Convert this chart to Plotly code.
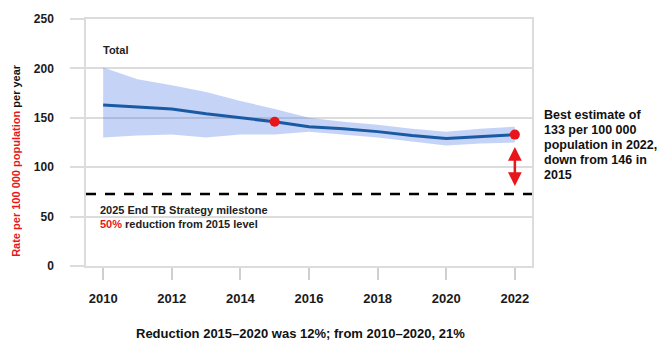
import plotly.graph_objects as go

# Estimated TB incidence rate, global total
years = [2010, 2011, 2012, 2013, 2014, 2015, 2016, 2017, 2018, 2019, 2020, 2021, 2022]
best = [163, 161, 159, 154, 150, 146, 141, 139, 136, 132, 129, 131, 133]
upper = [201, 189, 183, 176, 167, 159, 150, 146, 143, 139, 136, 139, 141]
lower = [130, 132, 133, 130, 133, 133, 136, 133, 130, 126, 122, 124, 125]

x_ticks = [2010, 2012, 2014, 2016, 2018, 2020, 2022]
y_ticks = [0, 50, 100, 150, 200, 250]

base_year = 2015
base_value = best[years.index(base_year)]
milestone = base_value * 0.5          # 50% reduction from 2015 level
last_year = years[-1]
last_value = best[-1]

side_lines = [
    "Best estimate of",
    f"{last_value} per 100 000",
    f"population in {last_year},",
    f"down from {base_value} in",
    f"{base_year}",
]

FONT = "Liberation Sans, Arial, sans-serif"
RED = "#e8151b"
GRID = "#dcdcdc"

W, H = 661, 342
L, R, T, B = 86, 129, 17, 76


def px_x(p):
    return (p - L) / (W - L - R)


def px_y(p):
    return (H - B - p) / (H - T - B)


fig = go.Figure()

# uncertainty band
fig.add_trace(go.Scatter(x=years, y=upper, mode="lines", line=dict(width=0),
                         hoverinfo="skip"))
fig.add_trace(go.Scatter(x=years, y=lower, mode="lines", line=dict(width=0),
                         fill="tonexty", fillcolor="rgba(80,120,230,0.33)",
                         hoverinfo="skip"))
# best estimate
fig.add_trace(go.Scatter(x=years, y=best, mode="lines",
                         line=dict(color="#1a5aa2", width=3)))
# highlighted points
fig.add_trace(go.Scatter(x=[base_year, last_year], y=[base_value, last_value],
                         mode="markers",
                         marker=dict(color=RED, size=10)))

# milestone line
fig.add_shape(type="line", xref="paper", x0=0, x1=1, yref="y",
              y0=milestone, y1=milestone,
              line=dict(color="black", width=2.5, dash="10px,9px"))

# double-headed arrow between latest estimate and milestone
fig.add_annotation(x=last_year, y=milestone + 8, ax=last_year, ay=last_value - 11,
                   xref="x", yref="y", axref="x", ayref="y", text="",
                   showarrow=True, arrowside="end+start", arrowhead=2,
                   arrowsize=1.1, arrowwidth=2.5, arrowcolor=RED)

fig.add_annotation(x=2009.94, y=219, xref="x", yref="y", text="Total",
                   showarrow=False, xanchor="left", yanchor="middle",
                   font=dict(family=FONT, size=11, color="#222", weight="bold"))

fig.add_annotation(x=2009.85, y=50, xref="x", yref="y",
                   text="2025 End TB Strategy milestone<br>"
                        f"<span style='color:{RED}'>50%</span> reduction from {base_year} level",
                   showarrow=False, xanchor="left", yanchor="middle", align="left",
                   font=dict(family=FONT, size=11, color="#222", weight="bold"))

for i, line in enumerate(side_lines):
    fig.add_annotation(x=px_x(542), y=px_y(113.5 + 15.2 * i), xref="paper", yref="paper",
                       text=line, showarrow=False, xanchor="left", yanchor="middle",
                       font=dict(family=FONT, size=12.5, color="#111", weight="bold"))

# axis title, two colours
fig.add_annotation(x=px_x(16), y=px_y(160), xref="paper", yref="paper",
                   text=f"<span style='color:{RED}'>Rate per 100 000 population</span> per year",
                   textangle=-90, showarrow=False, xanchor="center", yanchor="middle",
                   font=dict(family=FONT, size=11, color="#111", weight="bold"))

fig.add_annotation(x=px_x(300), y=px_y(334), xref="paper", yref="paper",
                   text="Reduction 2015–2020 was 12%; from 2010–2020, 21%",
                   showarrow=False, xanchor="center", yanchor="middle",
                   font=dict(family=FONT, size=13, color="#111", weight="bold"))

fig.update_xaxes(range=[2009.5, 2022.5], tickvals=x_ticks,
                 showgrid=False, zeroline=False,
                 ticks="outside", ticklen=12, tickwidth=1.5, tickcolor="#cfcfcf",
                 ticklabelstandoff=8,
                 showline=True, mirror=True, linecolor=GRID, linewidth=1.5,
                 tickfont=dict(family=FONT, size=13, color="#1a1a1a", weight="bold"))
fig.update_yaxes(range=[0, 250], tickvals=y_ticks,
                 showgrid=True, gridcolor=GRID, gridwidth=1.5, zeroline=False,
                 ticks="outside", ticklen=14, tickwidth=1.5, tickcolor=GRID,
                 ticklabelstandoff=14,
                 showline=True, mirror=True, linecolor=GRID, linewidth=1.5,
                 tickfont=dict(family=FONT, size=12, color="#1a1a1a", weight="bold"))

fig.update_layout(width=W, height=H, margin=dict(l=L, r=R, t=T, b=B),
                  paper_bgcolor="white", plot_bgcolor="white", showlegend=False)

fig.write_html("out.html")
